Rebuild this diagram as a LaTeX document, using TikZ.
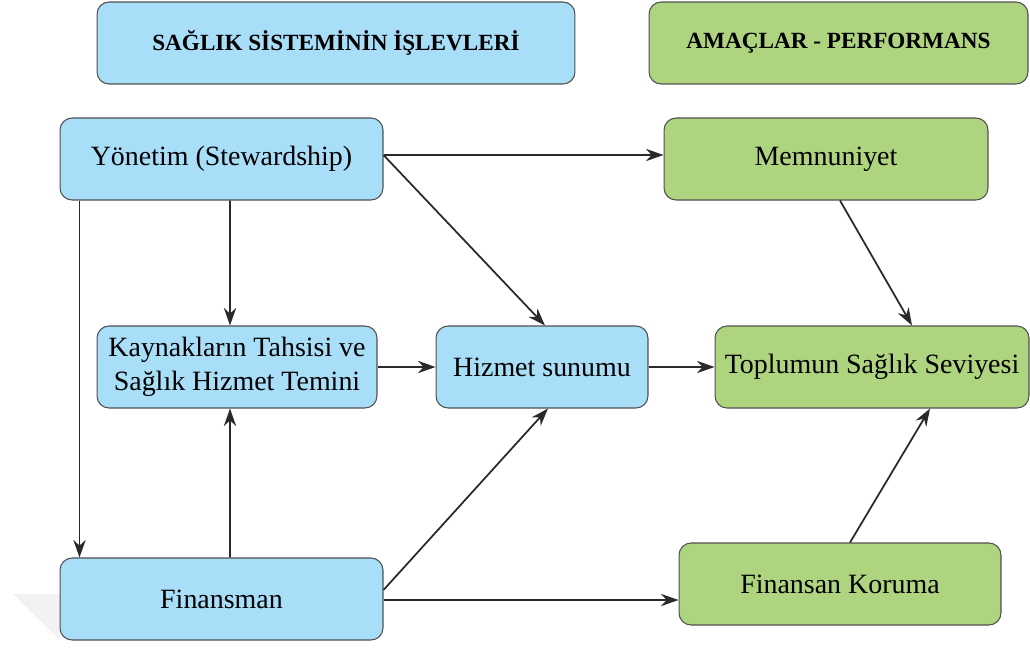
\documentclass[tikz,border=0pt]{standalone}
\usepackage{fontspec}
\setmainfont{Liberation Serif}
\usepackage{tikz}
\usetikzlibrary{arrows.meta,calc,positioning}
\definecolor{sysblue}{HTML}{A8DEF8}
\definecolor{goalgreen}{HTML}{AED47F}
\definecolor{edgegray}{HTML}{505050}
\definecolor{wiregray}{HTML}{2A2A2A}
\tikzset{
	box/.style={draw=edgegray, semithick, rounded corners=0.24cm, align=center,
		minimum height=1.64cm, inner sep=2pt, font=\fontsize{15.9}{19.5}\selectfont},
	sys/.style={box, fill=sysblue},
	goal/.style={box, fill=goalgreen},
	hdr/.style={font=\fontsize{13.2}{16}\selectfont\bfseries},
	wire/.style={draw=wiregray, line width=1pt, -{Stealth[length=10pt,width=7pt]}}
}

\begin{document}
\begin{tikzpicture}[x=0.02cm, y=-0.02cm]
  \useasboundingbox (0,0) rectangle (1030,650);
  % faint shadow at the left
  \fill[black!5] (13,594) -- (60,594) -- (60,640) -- cycle;
  % headers
  \node[sys, hdr, minimum width=9.56cm] (hdrA) at (336,43) {SAĞLIK SİSTEMİNİN İŞLEVLERİ};
  \node[goal, hdr, minimum width=7.58cm] (hdrB) at (838.5,43) {AMAÇLAR - PERFORMANS};
  % functions
  \node[sys, minimum width=6.46cm] (yon) at (221.5,159) {Yönetim (Stewardship)};
  \node[sys, minimum width=5.6cm] (kay) at (237,367) {Kaynakların Tahsisi ve\\Sağlık Hizmet Temini};
  \node[sys, minimum width=4.24cm] (hiz) at (542,367) {Hizmet sunumu};
  \node[sys, minimum width=6.46cm] (fin) at (221.5,599) {Finansman};
  % goals
  \node[goal, minimum width=6.48cm] (mem) at (826,159) {Memnuniyet};
  \node[goal, minimum width=6.28cm] (top) at (872,367) {Toplumun Sağlık Seviyesi};
  \node[goal, minimum width=6.44cm] (kor) at (840,584) {Finansan Koruma};

  \draw[wire] ($(yon.east)+(0,-4)$) -- ($(mem.west)+(0,-4)$);
  \draw[wire] ($(yon.east)+(0,-4)$) -- ($(hiz.north)+(3,0)$);
  \draw[wire] ($(yon.south)+(8.5,0)$) -- ($(kay.north)+(-7,0)$);
  \draw[wire] ($(yon.south west)+(20,0)$) -- ($(fin.north west)+(20,0)$);
  \draw[wire] (kay.east) -- (hiz.west);
  \draw[wire] (hiz.east) -- (top.west);
  \draw[wire] ($(mem.south)+(14,0)$) -- ($(top.north)+(40,0)$);
  \draw[wire] ($(fin.north)+(8.5,0)$) -- ($(kay.south)+(-7,0)$);
  \draw[wire] ($(fin.east)+(0,-9)$) -- ($(hiz.south)+(6,0)$);
  \draw[wire] ($(fin.east)+(0,1)$) -- ($(kor.west)+(0,16)$);
  \draw[wire] ($(kor.north)+(10,0)$) -- ($(top.south)+(58,0)$);
\end{tikzpicture}
\end{document}
